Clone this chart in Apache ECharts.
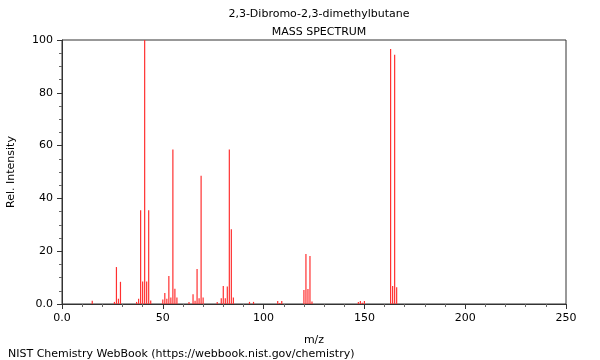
<!DOCTYPE html>
<html>
<head>
<meta charset="utf-8">
<script src="https://cdn.jsdelivr.net/npm/echarts@6/dist/echarts.min.js"></script>
<style>html,body{margin:0;padding:0;background:#fff}#c{width:600px;height:360px}</style>
</head>
<body>
<div id="c"></div>
<script>
const titleText = "2,3-Dibromo-2,3-dimethylbutane";
const subtitleText = "MASS SPECTRUM";
const footerText = "NIST Chemistry WebBook (https://webbook.nist.gov/chemistry)";
const mz = [15, 26, 27, 28, 29, 37, 38, 39, 40, 41, 42, 43, 44, 50, 51, 52, 53, 54, 55, 56, 57, 63, 65, 66, 67, 68, 69, 70, 77, 79, 80, 81, 82, 83, 84, 85, 93, 95, 107, 108, 109, 120, 121, 122, 123, 124, 147, 148, 149, 150, 163, 164, 165, 166];
const intensity = [1.2, 0.8, 14, 2, 8.4, 0.8, 2, 35.5, 8.5, 100, 8.5, 35.5, 1.3, 1.7, 4.2, 2, 10.6, 2.5, 58.5, 5.8, 2.5, 0.8, 3.7, 1.2, 13.3, 2.2, 48.6, 2.5, 0.8, 2.2, 6.8, 2.2, 6.6, 58.5, 28.3, 2.5, 0.8, 0.8, 1.1, 0.4, 1.1, 5.3, 18.9, 5.7, 18.2, 0.9, 0.8, 1.1, 0.5, 1.1, 96.6, 6.8, 94.4, 6.3];
const xTicks = [0, 50, 100, 150, 200, 250];
const yTicks = [0, 20, 40, 60, 80, 100];

const FONT = "DejaVu Sans";
const chart = echarts.init(document.getElementById('c'), null, {renderer: 'canvas'});
const data = mz.map((m, i) => [m, intensity[i]]);
const fmt = v => (v === 0 ? "0.0" : String(v));

chart.setOption({
  animation: false,
  backgroundColor: '#fff',
  title: [
    {text: titleText, left: 314, top: 4, textAlign: 'center',
     textStyle: {fontFamily: FONT, fontSize: 11, fontWeight: 'normal', color: '#000'}},
    {text: subtitleText, left: 314, top: 22, textAlign: 'center',
     textStyle: {fontFamily: FONT, fontSize: 11, fontWeight: 'normal', color: '#000'}},
    {text: footerText, left: 3, top: 344,
     textStyle: {fontFamily: FONT, fontSize: 11, fontWeight: 'normal', color: '#000'}}
  ],
  grid: {left: 62, right: 34, top: 40, bottom: 56, containLabel: false, outerBoundsMode: 'none',
         show: true, borderColor: '#333', borderWidth: 1, backgroundColor: 'transparent'},
  xAxis: {
    type: 'value', min: xTicks[0], max: xTicks[xTicks.length - 1], interval: 50,
    name: 'm/z', nameLocation: 'middle', nameGap: 31,
    nameTextStyle: {fontFamily: FONT, fontSize: 11, color: '#000'},
    axisLine: {show: true, lineStyle: {color: '#333', width: 1}},
    axisTick: {show: true, length: 5, lineStyle: {color: '#333'}},
    minorTick: {show: true, splitNumber: 5, length: 3, lineStyle: {color: '#666'}},
    axisLabel: {fontFamily: FONT, fontSize: 11, color: '#000', margin: 9, formatter: fmt},
    splitLine: {show: false}
  },
  yAxis: {
    type: 'value', min: yTicks[0], max: yTicks[yTicks.length - 1], interval: 20,
    name: 'Rel. Intensity', nameLocation: 'middle', nameGap: 45, nameRotate: 90,
    nameTextStyle: {fontFamily: FONT, fontSize: 11, color: '#000'},
    axisLine: {show: true, lineStyle: {color: '#333', width: 1}},
    axisTick: {show: true, length: 5, lineStyle: {color: '#333'}},
    minorTick: {show: true, splitNumber: 4, length: 3, lineStyle: {color: '#666'}},
    axisLabel: {fontFamily: FONT, fontSize: 11, color: '#000', margin: 9, formatter: fmt},
    splitLine: {show: false}
  },
  series: [{
    type: 'bar', data: data, barWidth: 1.2,
    itemStyle: {color: '#ff3030'},
    silent: true
  }]
});
</script>
</body>
</html>
